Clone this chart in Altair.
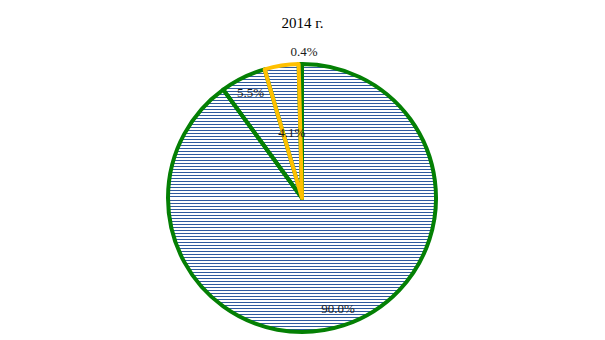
import altair as alt
import pandas as pd

categories = ["s1", "s2", "s3", "s4"]
shares = [90.0, 5.5, 4.1, 0.4]
labels = ["90.0%", "5.5%", "4.1%", "0.4%"]
order = [0, 1, 2, 3]

df = pd.DataFrame({"cat": categories, "share": shares, "label": labels, "order": order})

CX, CY, R = 302, 198, 134
GREEN = "#048004"
YELLOW = "#ffc000"
BLUE = "#2f5a9e"
FONT = "Liberation Serif"

n = 89
stops = []
for i in range(n):
    a = i / n
    b = (i + 1 / 3) / n
    c = (i + 1) / n
    stops += [
        {"offset": a, "color": BLUE},
        {"offset": b, "color": BLUE},
        {"offset": b, "color": "#ffffff"},
        {"offset": c, "color": "#ffffff"},
    ]
stripes = {"gradient": "linear", "x1": 0, "y1": 0, "x2": 0, "y2": 1, "stops": stops}

base = alt.Chart(df).transform_joinaggregate(
    total="sum(share)"
).transform_window(
    cum="sum(share)", sort=[alt.SortField("order")], frame=[None, 0]
).transform_calculate(
    a0="2*PI*(datum.cum - datum.share)/datum.total",
    a1="2*PI*datum.cum/datum.total",
    am="2*PI*(datum.cum - datum.share/2)/datum.total",
    full="2*PI",
).encode(x=alt.value(CX), y=alt.value(CY))

background = base.transform_filter("datum.order == 0").mark_arc(
    radius=R, fill=stripes, strokeWidth=0
).encode(
    theta=alt.Theta("a0:Q", scale=None, stack=None),
    theta2=alt.Theta2("full:Q"),
)

stroke_scale = alt.Scale(domain=categories, range=[GREEN, GREEN, YELLOW, GREEN])

def slice_layer(test):
    return base.transform_filter(test).mark_arc(
        radius=R, fill="transparent", strokeWidth=4, strokeJoin="round"
    ).encode(
        theta=alt.Theta("a0:Q", scale=None, stack=None),
        theta2=alt.Theta2("a1:Q"),
        stroke=alt.Stroke("cat:N", scale=stroke_scale, legend=None),
    )

slices_small = slice_layer("datum.share < 1")
slices_main = slice_layer("datum.share >= 1")

def label_layer(test, r, dx=0):
    return base.transform_filter(test).mark_text(
        radius=r, font=FONT, fontSize=13, color="#1a1a1a", dx=dx
    ).encode(
        theta=alt.Theta("am:Q", scale=None, stack=None),
        text="label:N",
    )

t_big = label_layer("datum.share >= 5", 117)
t_mid = label_layer("datum.share >= 1 && datum.share < 5", 66)
t_small = label_layer("datum.share < 1", 146, dx=4)

chart = alt.layer(background, slices_small, slices_main, t_big, t_mid, t_small).properties(
    width=605, height=340,
    autosize=alt.AutoSizeParams(type="none"),
    padding=0,
    title=alt.TitleParams("2014 г.", font=FONT, fontSize=15, fontWeight="normal",
                          color="#000000", anchor="middle", baseline="alphabetic", offset=-43),
).configure_view(stroke=None)

chart.save("out.html", embed_options={"renderer": "svg", "actions": False})
